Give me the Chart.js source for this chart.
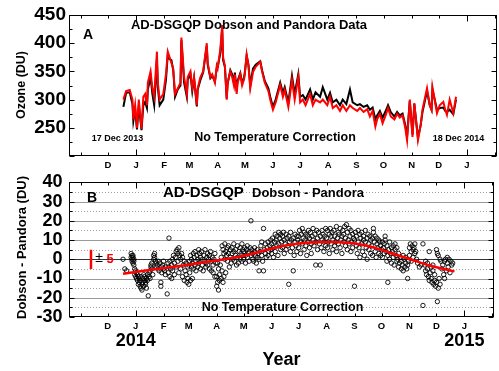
<!DOCTYPE html>
<html><head><meta charset="utf-8">
<script src="https://cdn.jsdelivr.net/npm/chart.js@4.4.1/dist/chart.umd.min.js"></script>
<style>
html,body{margin:0;padding:0;background:#fff;width:499px;height:371px;overflow:hidden;}
canvas{position:absolute;left:0;}
#a{top:0;width:499px;height:172px;}
#b{top:165px;width:499px;height:206px;}
</style></head><body>
<canvas id="a" width="499" height="172"></canvas>
<canvas id="b" width="499" height="206"></canvas>
<script>
// ---------- DATA (x = days since 1 Jan 2014) ----------
const ozoneDays = [-14,-11,-7,-4,-3,-1,1,3,6,8, 10,12,13,16,18,20,23,24,26,30,
 33,35,37,39,41,43,46,49,50,53, 56,57,60,62,64,67,68,71,74,76,
 78,79,82,84,87,89,90,93,95,96, 98,100,101,104,106,108,109,111,112,115,
 117,119,120,122,124,126,129,132,137,139, 142,146,148,151,154,159,162,164,168,170,
 172,175,179,181,184,187,192,195,198,203, 206,211,214,217,221,225,228,232,236,239,
 244,247,251,255,258,261,264,266,269,272, 276,278,281,285,288,291,294,297,299,302,
 305,307,311,314,316,321,324,326,327,332, 335,339,341,343,346,350,353];
const pandoraOzone = [300,315,317,300,265,290,250,300,248,305, 310,290,330,350,320,305,385,330,300,310,
 345,385,375,365,355,310,320,330,410,340, 310,340,350,320,340,290,320,340,350,375,
 400,365,340,345,330,360,355,390,432,375, 360,300,330,350,340,325,345,310,330,345,
 325,335,345,380,360,320,349,358,367,350, 330,315,300,282,295,326,305,317,287,310,
 335,300,340,295,300,290,310,290,300,295, 300,290,305,285,290,280,290,280,290,285,
 280,285,278,283,270,280,252,265,275,258, 275,285,270,265,275,268,272,250,228,300,
 234,294,228,255,282,320,290,282,322,276, 290,296,283,273,300,276,305];
const dobsonOzone = [287,312,313,292,262,282,247,290,246,290, 296,285,318,340,310,290,370,322,290,300,
 335,380,372,370,352,305,318,325,405,330, 305,335,345,315,338,288,318,335,348,372,
 395,362,338,342,332,356,357,383,425,370, 358,302,328,352,345,330,348,315,333,347,
 330,338,348,378,362,325,355,362,368,352, 333,320,305,287,300,330,312,322,295,318,
 342,310,345,305,308,300,318,300,313,305, 322,300,312,295,300,290,300,292,318,295,
 290,292,287,290,282,286,265,272,280,268, 282,290,278,270,278,272,275,255,235,298,
 238,292,232,255,278,315,290,282,318,282, 285,286,280,278,282,274,300];

const diffDays = [
 -14,-12,-10,-5,-5,-4,-4,-4,-3,-3,-3,-2,-2,-2,-1,-1,
 0,0,1,1,2,2,3,3,4,4,5,5,6,6,7,7,8,8,9,9,10,10,11,11,12,12,13,13,14,15,15,16,16,17,17,18,18,19,
 20,20,21,21,22,23,23,24,25,25,26,27,28,28,29,29,30,31,31,32,33,33,
 35,36,36,37,37,38,38,39,40,40,41,41,42,43,43,44,45,45,46,47,47,48,48,49,50,50,51,52,52,53,54,54,55,56,56,57,58,58,
 59,59,60,60,61,61,62,62,63,63,64,64,65,66,66,67,67,68,69,69,70,70,71,72,72,73,74,74,75,76,76,77,78,78,79,80,80,81,82,82,83,84,84,85,86,86,87,88,88,89,
 90,90,91,91,92,92,93,93,94,95,95,96,96,97,97,98,98,99,99,100,100,101,102,102,103,103,104,105,105,106,107,107,108,109,109,110,111,111,112,113,113,114,115,116,116,117,118,118,119,119,
 120,120,121,122,122,123,124,124,125,126,126,127,128,128,129,130,130,131,132,132,133,134,135,135,136,137,137,138,139,140,140,141,142,142,143,144,144,145,146,147,147,148,149,150,150,
 151,151,152,153,153,154,155,155,156,157,157,158,159,159,160,161,161,162,163,163,164,165,165,166,167,167,168,169,170,170,171,172,172,173,174,175,175,176,177,177,178,179,179,180,
 181,181,182,183,183,184,185,185,186,187,187,188,189,189,190,191,191,192,193,193,194,195,195,196,197,197,198,199,200,200,201,202,202,203,204,205,205,206,207,207,208,209,209,210,211,211,
 212,213,213,214,215,215,216,217,217,218,219,219,220,221,221,222,223,223,224,225,225,226,227,227,228,229,229,230,231,231,232,233,233,234,235,235,236,237,237,238,239,239,240,241,241,242,
 243,243,244,245,245,246,247,247,248,249,249,250,251,251,252,253,253,254,255,255,256,257,257,258,259,259,260,261,261,262,263,263,264,264,265,266,266,267,268,268,269,270,270,271,272,272,
 273,274,274,275,276,276,277,277,278,279,279,280,280,281,282,282,283,284,284,285,286,286,287,288,288,289,290,290,291,292,292,293,294,295,295,296,297,297,298,299,300,300,301,302,302,303,
 304,304,305,306,306,307,308,308,309,310,310,311,312,313,315,317,319,319,321,322,322,323,324,324,325,326,326,327,328,328,329,330,330,331,332,332,333,
 334,334,335,335,336,336,337,338,338,339,340,341,342,343,343,344,345,346,346,347,348,349,350,351,352];
const diffValues = [
 0,-5,-6,1,3,2,-1,0,2,-2,1,0,-1,-3,-5,-8,
 -6,-9,-10,-7,-11,-8,-9,-13,-12,-10,-14,-11,-15,-9,-13,-16,-10,-12,-8,-14,-11,-9,-13,-12,-15,-10,-11,-8,-19,-9,-7,-10,-6,-4,-3,-5,-2,-8,
 2,0,3,1,-1,-2,-4,-3,-1,-5,-6,-2,-12,-14,-4,-7,-3,-5,-1,-6,-8,-4,
 -18,-2,-7,11,-4,-1,-9,-5,-10,-3,0,-6,2,-2,-8,1,4,-4,5,3,-1,6,-7,2,0,-5,3,1,-9,-3,-1,-11,-6,-2,-8,-12,-4,-10,
 -13,-3,-1,-7,2,-11,-4,0,-10,-2,3,-5,1,-3,4,-1,-6,2,0,-4,5,-2,3,1,-5,4,-3,0,-6,2,-1,5,-2,-4,1,3,-3,0,-5,2,4,-1,-6,1,-3,-7,0,3,-9,-2,
 -9,-14,-12,-2,-16,-5,-11,-8,-3,-10,1,7,-6,5,-12,3,-9,8,0,4,-7,2,6,-1,3,7,-4,5,1,-2,6,3,0,8,4,-1,2,5,-3,7,1,-2,4,6,0,3,8,-1,5,2,
 4,0,6,2,-2,5,1,7,3,-1,4,6,20,2,5,0,3,-1,6,4,2,-2,5,1,3,-6,0,4,7,2,9,-1,-6,16,5,3,8,1,6,2,9,4,7,10,5,
 8,3,11,6,1,9,13,4,10,7,12,2,14,8,11,5,13,9,6,12,14,3,10,8,13,5,11,7,-13,12,9,14,4,10,6,-6,11,2,9,13,7,12,4,10,
 12,6,15,9,3,13,8,16,11,5,14,10,7,13,2,12,9,15,6,11,14,8,3,12,16,10,7,13,-3,9,15,11,5,14,8,-3,12,6,10,15,13,4,9,12,16,7,
 11,15,6,9,13,3,16,8,12,14,5,10,15,7,12,9,17,4,11,14,8,13,6,16,10,12,3,15,9,13,17,7,11,18,5,14,10,16,8,12,4,15,9,13,6,11,
 -14,10,14,7,12,3,15,9,6,13,1,11,8,14,4,10,12,2,9,15,6,11,0,13,8,5,12,3,10,7,11,2,16,14,9,4,12,1,8,11,6,10,3,9,2,7,
 5,9,1,6,3,8,12,10,4,-1,7,-12,2,5,9,0,3,6,-2,4,1,7,-3,8,5,2,-1,6,0,-4,3,-2,1,-5,-1,-3,2,-6,0,-4,-2,1,-5,-10,-3,-1,
 6,2,8,4,-1,7,5,1,6,3,8,4,0,-2,-4,-3,8,-24,-3,-6,-1,-8,-5,-2,-9,4,-11,-7,-4,-10,-12,-6,-3,-13,-8,-11,-14,
 -12,5,-22,3,-15,2,-10,-13,0,-1,-5,-3,-8,-1,-10,0,-6,1,-2,-4,0,-7,-1,-3,-2];

const fitDays   = [-14, 15, 49, 82, 109, 126, 148, 165, 181, 200, 217, 235, 247, 260, 272, 290, 305, 326, 340, 354];
const fitValues = [-7.5,-5.6,-3.5,-1.2,0.8,2.5,5.2,7.0,8.2,8.9,9.0,8.6,7.9,6.6,5.0,2.2,0,-3.2,-4.8,-6.3];

const errorBarDay = -49.6, errorBarHalf = 5;

const monthTickDays = [-61,-31,0,31,59,90,120,151,181,212,243,273,304,334,365,396];
const monthLabels   = ['','D','J','F','M','A','M','J','J','A','S','O','N','D','J',''];
const yearTickDays  = [0,365];
const yearLabels    = ['2014','2015'];
const xRange = [-74, 398];

// ---------- helpers ----------
const F = "'Liberation Sans', Arial, Helvetica, sans-serif";
const pts = (xs, ys) => xs.map((d,i)=>({x:d, y:ys[i]}));

function makeDecor(cfg){
  return {
    id:'decor',
    beforeDatasetsDraw(chart){
      const ctx=chart.ctx, ca=chart.chartArea, y=chart.scales.y;
      ctx.save();
      (cfg.grid||[]).forEach(g=>{
        const py=Math.round(y.getPixelForValue(g.v))+0.5;
        ctx.strokeStyle=g.c; ctx.lineWidth=1; ctx.setLineDash(g.dash||[]);
        ctx.beginPath(); ctx.moveTo(ca.left,py); ctx.lineTo(ca.right,py); ctx.stroke();
      });
      ctx.restore();
    },
    afterDatasetsDraw(chart){
      const ctx=chart.ctx, ca=chart.chartArea, x=chart.scales.x, y=chart.scales.y;
      ctx.save();
      ctx.strokeStyle='#000'; ctx.lineWidth=1; ctx.setLineDash([]);
      const L=Math.round(ca.left)+0.5, R=Math.round(ca.right)-0.5, T=Math.round(ca.top)+0.5, B=Math.round(ca.bottom)-0.5;
      ctx.strokeRect(L,T,R-L,B-T);
      ctx.beginPath();
      monthTickDays.forEach(d=>{
        const px=Math.round(x.getPixelForValue(d))+0.5;
        const len=yearTickDays.includes(d)?6:3;
        ctx.moveTo(px,B); ctx.lineTo(px,B-len);
        ctx.moveTo(px,T); ctx.lineTo(px,T+len);
      });
      for(let v=y.min; v<=y.max+1e-9; v+=cfg.minorStep){
        const py=Math.round(y.getPixelForValue(v))+0.5;
        const len=(Math.abs(v%cfg.majorStep)<1e-9)?5:3;
        ctx.moveTo(L,py); ctx.lineTo(L+len,py);
        ctx.moveTo(R,py); ctx.lineTo(R-len,py);
      }
      ctx.stroke();
      (cfg.texts||[]).forEach(t=>{
        ctx.font=t.font; ctx.fillStyle=t.color||'#000';
        if(t.rot){
          ctx.save(); ctx.translate(t.x,t.y); ctx.rotate(-Math.PI/2);
          ctx.textAlign='center'; ctx.textBaseline='middle'; ctx.fillText(t.text,0,0); ctx.restore();
        } else {
          ctx.textAlign=t.align||'left'; ctx.textBaseline='alphabetic'; ctx.fillText(t.text,t.x,t.y);
        }
      });
      ctx.restore();
    }
  };
}

const monthAxis = (h)=>({
  type:'linear', min:xRange[0], max:xRange[1], position:'bottom',
  afterBuildTicks: s=>{ s.ticks = monthTickDays.map(v=>({value:v})); },
  afterFit: s=>{ s.height=h; },
  ticks:{ autoSkip:false, maxRotation:0, padding:4, color:'#000',
    font:{family:F, size:9.5, weight:'bold'},
    callback:(v,i)=>monthLabels[i] },
  grid:{display:false, drawTicks:false, tickLength:0},
  border:{display:false}
});

// ---------- Chart A ----------
new Chart(document.getElementById('a'), {
  type:'scatter',
  data:{ datasets:[
    {label:'Pandora', data:pts(ozoneDays,pandoraOzone), showLine:true, borderColor:'#ff0000', borderWidth:2, pointRadius:0, tension:0, order:0},
    {label:'Dobson',  data:pts(ozoneDays,dobsonOzone),  showLine:true, borderColor:'#000000', borderWidth:2, pointRadius:0, tension:0, order:1}
  ]},
  options:{
    responsive:false, animation:false, events:[],
    layout:{padding:{top:15,right:2,left:0,bottom:0}},
    plugins:{legend:{display:false}, tooltip:{enabled:false}},
    scales:{
      x: monthAxis(16),
      y:{ min:200, max:450,
        afterFit: s=>{ s.width=69; },
        ticks:{stepSize:50, autoSkip:false, padding:3, color:'#000', font:{family:F, size:19, weight:'bold'},
          callback:v=> v===200 ? '' : String(v)},
        grid:{display:false, drawTicks:false, tickLength:0}, border:{display:false}}
    }
  },
  plugins:[makeDecor({
    minorStep:25, majorStep:50,
    texts:[
      {text:'A', font:`bold 14px ${F}`, x:83, y:39},
      {text:'AD-DSGQP Dobson and Pandora Data', font:`bold 13px ${F}`, x:249, y:29, align:'center'},
      {text:'17 Dec 2013', font:`bold 9px ${F}`, x:117.5, y:141, align:'center'},
      {text:'No Temperature Correction', font:`bold 12.5px ${F}`, x:275, y:141, align:'center'},
      {text:'18 Dec 2014', font:`bold 9px ${F}`, x:458.5, y:141, align:'center'},
      {text:'Ozone (DU)', font:`bold 12.5px ${F}`, x:22, y:85, rot:true}
    ]})]
});

// ---------- Chart B ----------
new Chart(document.getElementById('b'), {
  type:'scatter',
  data:{ datasets:[
    {label:'Fit', data:pts(fitDays,fitValues), showLine:true, borderColor:'#ff0000', borderWidth:2.5, pointRadius:0, cubicInterpolationMode:'monotone', order:0},
    {label:'±5', data:[{x:errorBarDay,y:-errorBarHalf},{x:errorBarDay,y:errorBarHalf}], showLine:true, borderColor:'#ff0000', borderWidth:2.5, pointRadius:0, order:0},
    {label:'Dobson - Pandora', data:pts(diffDays,diffValues), pointStyle:'circle', pointRadius:2.2, borderWidth:0.9, borderColor:'#000', backgroundColor:'rgba(0,0,0,0)', order:1}
  ]},
  options:{
    responsive:false, animation:false, events:[],
    layout:{padding:{top:12,right:2,left:0,bottom:0}},
    plugins:{legend:{display:false}, tooltip:{enabled:false}},
    scales:{
      x: monthAxis(13),
      x2:{ type:'linear', min:xRange[0], max:xRange[1], position:'bottom', weight:1,
        afterBuildTicks: s=>{ s.ticks = yearTickDays.map(v=>({value:v})); },
        afterFit: s=>{ s.height=41; },
        ticks:{autoSkip:false, maxRotation:0, padding:0, color:'#000', font:{family:F, size:18, weight:'bold'},
          callback:(v,i)=>yearLabels[i]},
        title:{display:true, text:'Year', color:'#000', font:{family:F, size:18, weight:'bold'}, padding:{top:0,bottom:0.5}},
        grid:{display:false, drawTicks:false, tickLength:0}, border:{display:false}},
      y:{ min:-30, max:40,
        afterFit: s=>{ s.width=69; },
        ticks:{stepSize:10, autoSkip:false, padding:6.5, color:'#000', font:{family:F, size:18, weight:'bold'}},
        grid:{display:false, drawTicks:false, tickLength:0}, border:{display:false}}
    }
  },
  plugins:[makeDecor({
    minorStep:5, majorStep:10,
    grid:[
      {v:35,c:'#a0a0a0',dash:[1,2]},{v:30,c:'#9a9a9a'},{v:25,c:'#a0a0a0',dash:[1,2]},{v:20,c:'#9a9a9a'},
      {v:15,c:'#a0a0a0',dash:[1,2]},{v:10,c:'#9a9a9a'},{v:5,c:'#a0a0a0',dash:[1,2]},{v:0,c:'#333'},
      {v:-5,c:'#a0a0a0',dash:[1,2]},{v:-10,c:'#9a9a9a'},{v:-15,c:'#a0a0a0',dash:[1,2]},{v:-20,c:'#9a9a9a'},
      {v:-25,c:'#a0a0a0',dash:[1,2]}
    ],
    texts:[
      {text:'B', font:`bold 14px ${F}`, x:87, y:37},
      {text:'AD-DSGQP', font:`bold 15px ${F}`, x:163, y:32},
      {text:'Dobson - Pandora', font:`bold 13px ${F}`, x:252, y:32},
      {text:'No Temperature Correction', font:`bold 12.5px ${F}`, x:282.5, y:146, align:'center'},
      {text:'±', font:`14px ${F}`, x:99, y:97, align:'center'},
      {text:'5', font:`bold 13px ${F}`, x:106.5, y:98, color:'#ff0000'},
      {text:'Dobson - Pandora (DU)', font:`bold 13px ${F}`, x:22, y:82.5, rot:true}
    ]})]
});
</script></body></html>
